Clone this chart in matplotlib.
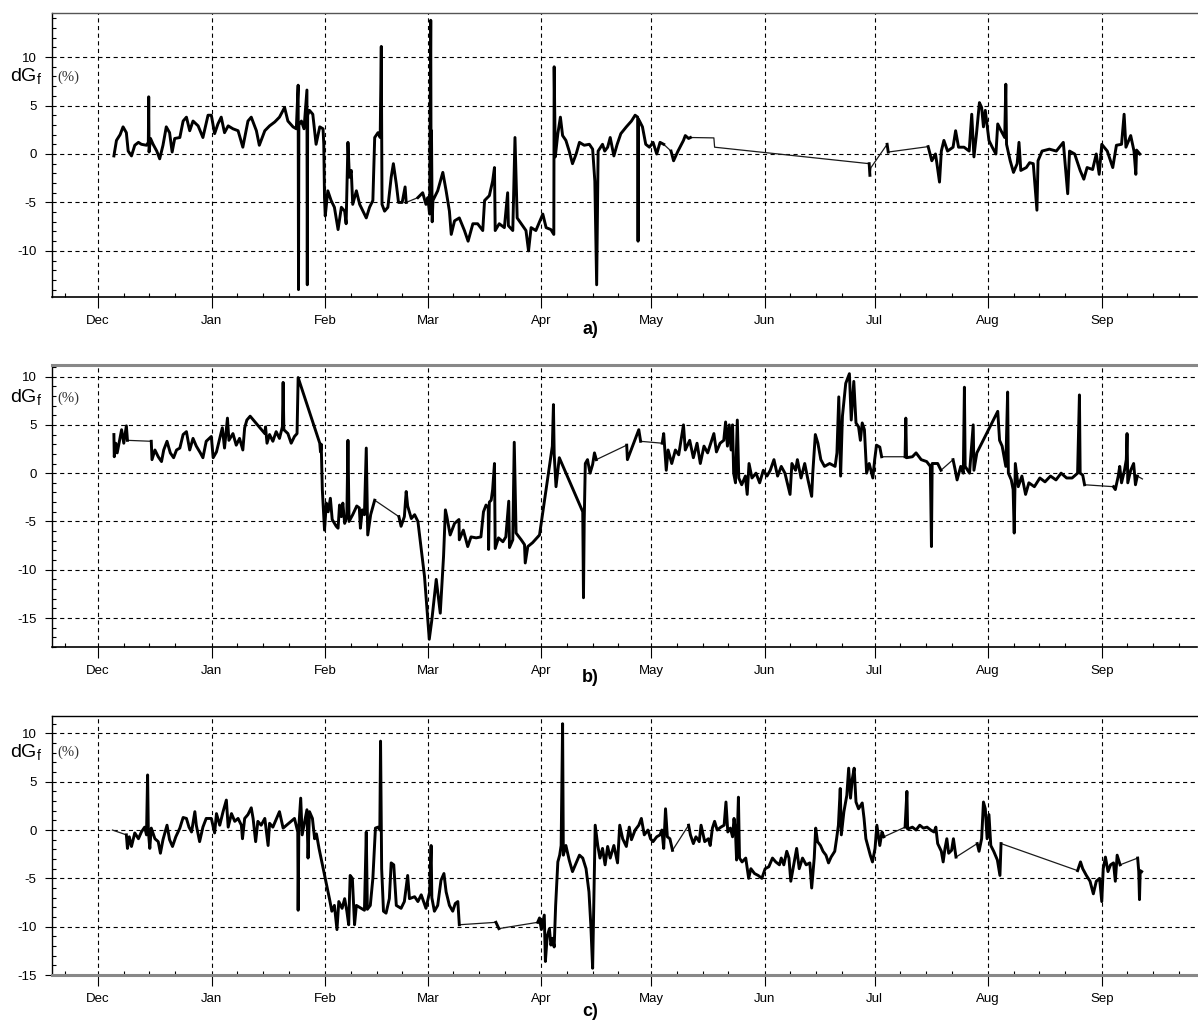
import matplotlib
matplotlib.use("Agg")
import matplotlib.pyplot as plt
import matplotlib.dates as mdates
from matplotlib.ticker import MultipleLocator
import numpy as np
import datetime as dt

plt.rcParams['font.family'] = ['Liberation Sans', 'DejaVu Sans']
plt.rcParams['lines.scale_dashes'] = False
plt.rcParams['axes.unicode_minus'] = False

# day 0 = 1 Dec
start = dt.datetime(2010, 12, 1)

# ---- panel a ----
a_days = [4.3, 5.0, 6.0, 6.8, 7.7, 8.2, 9.1, 10.0, 11.0, 11.8,
          13.2, 13.7, 13.8, 13.9, 14.3, 15.0, 16.0, 16.8, 17.7, 18.6,
          19.5, 20.2, 20.9, 22.3, 23.2, 24.1, 25.0, 25.9, 27.3, 28.6,
          30.0, 30.9, 31.8, 32.7, 33.6, 34.5, 35.5, 36.8, 38.2, 39.5,
          40.9, 41.8, 43.2, 44.0, 45.5, 46.8, 48.2, 49.5, 50.9, 51.8,
          53.2, 54.1, 54.6, 54.7, 54.8, 55.5, 56.2, 57.0, 57.1, 57.2,
          57.7, 58.6, 59.5, 60.5, 61.4, 61.6, 61.8, 62.0, 62.7, 63.6,
          64.5, 65.5, 66.4, 67.3, 67.7, 68.2, 68.6, 69.1, 69.5, 70.5,
          71.4, 72.3, 73.2, 74.1, 75.0, 75.5, 76.4, 77.0, 77.3, 77.5,
          78.2, 79.1, 80.0, 80.6, 81.4, 82.0, 83.0, 83.8, 84.1, 87.3,
          88.6, 89.5, 90.0, 90.5, 90.8, 90.9, 91.0, 91.2, 91.4, 92.7,
          94.1, 95.0, 95.9, 96.4, 97.3, 98.6, 100.0, 101.0, 102.3, 103.6,
          105.0, 105.5, 106.8, 107.7, 108.2, 108.4, 109.5, 110.9, 111.8, 112.0,
          113.2, 113.8, 114.4, 115.5, 116.8, 117.5, 118.2, 119.5, 121.4, 122.3,
          123.6, 124.4, 124.5, 124.8, 125.5, 126.2, 126.8, 127.7, 128.6, 129.5,
          130.5, 131.4, 132.7, 134.1, 135.0, 135.6, 136.1, 136.5, 137.7, 138.3,
          139.1, 139.8, 140.8, 141.7, 142.7, 144.2, 145.6, 146.6, 147.3, 147.4,
          147.5, 147.8, 148.6, 149.5, 150.5, 151.5, 152.5, 153.4, 154.4, 156.4,
          157.1, 158.3, 159.8, 160.3, 161.2, 161.7, 168.1, 168.3, 210.5, 210.7,
          211.0, 215.4, 215.7, 226.6, 227.6, 228.6, 229.0, 229.7, 230.2, 230.9,
          231.9, 233.4, 234.1, 234.9, 236.4, 237.8, 238.5, 239.1, 239.8, 240.6,
          241.2, 241.7, 242.2, 243.2, 244.1, 245.1, 245.6, 246.5, 247.5, 247.8,
          248.0, 249.0, 249.9, 250.9, 251.4, 251.9, 253.4, 254.3, 255.3, 256.3,
          256.6, 257.7, 259.7, 261.6, 263.5, 264.7, 265.2, 266.6, 268.1, 269.1,
          270.0, 271.5, 272.5, 273.3, 274.0, 275.5, 277.0, 278.0, 279.4, 280.1,
          280.6, 281.9, 282.8, 283.3, 283.5, 284.4]
a_vals = [-0.2, 1.4, 2.0, 2.8, 2.2, 0.3, -0.2, 0.9, 1.2, 1.0,
          0.9, 1.2, 5.9, 0.2, 1.6, 1.0, 0.3, -0.5, 0.9, 2.8,
          2.2, 0.2, 1.6, 1.7, 3.4, 3.8, 2.4, 3.4, 2.9, 1.7,
          4.0, 4.0, 2.1, 3.1, 3.8, 2.2, 2.9, 2.6, 2.4, 0.7,
          3.4, 3.8, 2.4, 0.9, 2.4, 2.9, 3.3, 3.8, 4.8, 3.4,
          2.8, 2.6, 7.1, -14.0, 3.0, 3.4, 2.6, 6.6, -13.5, 4.0,
          4.5, 4.1, 1.0, 2.8, 2.6, 1.0, -4.5, -6.4, -3.8, -4.8,
          -5.5, -7.8, -5.5, -5.9, -7.2, 1.2, -2.4, -1.7, -5.2, -3.8,
          -5.2, -5.9, -6.6, -5.5, -4.8, 1.7, 2.2, 1.7, 11.1, -5.2,
          -5.9, -5.5, -2.4, -1.0, -3.1, -5.0, -5.0, -3.4, -5.0, -4.5,
          -4.0, -5.2, -4.5, -6.2, 13.8, -4.0, 2.4, -7.0, -4.8, -3.8,
          -1.9, -3.8, -5.9, -8.3, -6.9, -6.6, -7.9, -9.0, -7.2, -7.2,
          -7.9, -4.8, -4.3, -2.8, -1.4, -7.9, -7.2, -7.6, -4.0, -7.4,
          -7.9, 1.7, -6.6, -7.2, -7.9, -10.0, -7.6, -7.9, -6.2, -7.6,
          -7.8, -8.3, 9.0, -0.3, 2.1, 3.8, 1.9, 1.4, 0.3, -1.0,
          0.0, 1.2, 0.9, 1.0, 0.5, -2.8, -13.5, 0.3, 1.0, 0.3,
          0.7, 1.7, -0.2, 1.0, 2.1, 2.8, 3.4, 4.0, 3.8, -9.0,
          3.6, 3.4, 2.8, 1.0, 0.7, 1.2, 0.0, 1.2, 1.0, 0.3,
          -0.7, 0.3, 1.4, 1.9, 1.6, 1.7, 1.66, 0.7, -1.0, -2.2,
          -1.4, 1.0, 0.2, 0.76, -0.7, 0.0, -1.0, -2.9, 0.3, 1.4,
          0.3, 0.7, 2.4, 0.7, 0.7, 0.3, 4.1, -0.3, 2.1, 5.3,
          4.8, 2.8, 4.5, 1.4, 0.7, 0.0, 3.1, 2.4, 1.7, 7.2,
          1.0, -0.7, -1.9, -1.0, 1.2, -1.7, -1.4, -0.9, -1.0, -5.8,
          -0.7, 0.3, 0.5, 0.3, 1.2, -4.1, 0.3, 0.0, -1.7, -2.6,
          -1.4, -1.6, 0.0, -2.1, 1.0, 0.3, -1.4, 0.9, 1.0, 4.1,
          0.7, 1.9, 0.3, -2.1, 0.4, 0.0]
a_gaps = [(84.1, 87.3), (154.4, 156.4), (161.7, 210.5), (210.7, 215.4), (215.7, 226.6)]

# ---- panel b ----
b_days = [4.3, 4.4, 4.8, 5.2, 5.7, 6.4, 7.0, 7.7, 8.0, 14.5,
          14.7, 15.5, 16.4, 17.3, 17.9, 18.8, 19.7, 20.6, 21.4, 22.3,
          23.2, 24.1, 25.0, 25.9, 26.8, 27.9, 28.6, 29.5, 30.9, 31.4,
          32.3, 33.2, 33.9, 34.5, 35.3, 35.7, 36.8, 37.7, 38.6, 39.5,
          40.0, 40.6, 41.5, 45.5, 45.7, 46.1, 46.8, 47.7, 48.6, 49.5,
          50.3, 50.5, 50.7, 51.8, 52.7, 53.6, 54.3, 54.6, 60.5, 60.7,
          60.9, 61.2, 61.8, 62.3, 62.8, 63.4, 63.9, 65.0, 65.5, 65.9,
          66.4, 66.8, 67.3, 67.9, 68.2, 68.5, 69.5, 70.6, 71.3, 71.6,
          72.1, 72.7, 73.2, 73.6, 74.4, 75.5, 82.1, 82.7, 83.6, 84.1,
          84.5, 85.5, 86.4, 87.3, 89.1, 90.4, 91.1, 92.3, 93.4, 94.3,
          94.8, 95.2, 96.1, 97.3, 98.5, 98.6, 99.7, 100.9, 101.8, 103.2,
          104.5, 105.2, 105.9, 106.5, 106.6, 106.8, 107.3, 107.7, 108.2, 108.4,
          109.3, 110.5, 111.3, 112.1, 112.3, 113.2, 113.6, 114.1, 115.5, 116.4,
          116.6, 117.3, 118.6, 120.0, 120.5, 124.0, 124.3, 124.5, 125.0, 125.9,
          132.3, 132.5, 132.7, 133.0, 133.6, 134.3, 135.0, 135.5, 136.0, 144.3,
          144.5, 147.6, 148.1, 154.0, 154.4, 155.1, 155.6, 156.6, 157.6, 158.5,
          159.8, 160.3, 161.5, 162.5, 163.5, 164.4, 165.4, 166.4, 168.1, 168.8,
          169.8, 170.8, 171.3, 171.8, 172.3, 172.8, 173.2, 173.5, 174.0, 174.5,
          174.9, 175.7, 176.7, 177.2, 177.7, 178.5, 179.6, 180.6, 181.6, 182.6,
          183.5, 184.5, 185.5, 186.5, 187.5, 188.9, 189.4, 190.4, 190.9, 191.9,
          192.9, 193.8, 194.8, 195.1, 195.8, 196.5, 197.3, 198.3, 199.7, 201.2,
          201.7, 202.2, 202.7, 203.2, 204.1, 205.1, 205.6, 206.3, 206.9, 207.6,
          208.1, 208.6, 209.2, 209.8, 210.5, 211.5, 212.0, 212.5, 213.4, 213.9,
          220.3, 220.5, 220.7, 222.3, 223.3, 224.7, 226.2, 227.2, 227.5, 227.7,
          229.2, 230.1, 233.4, 234.0, 234.5, 235.5, 236.2, 236.5, 236.7, 237.9,
          238.9, 239.1, 239.9, 245.6, 246.1, 246.8, 247.8, 248.3, 248.5, 249.3,
          249.8, 250.1, 250.4, 251.2, 252.2, 253.2, 254.1, 255.6, 257.1, 258.5,
          260.0, 261.5, 262.9, 264.4, 265.9, 267.4, 267.9, 268.1, 268.8, 269.3,
          277.2, 277.7, 278.5, 278.9, 279.4, 280.2, 280.7, 280.9, 281.1, 281.9,
          282.7, 283.2, 283.7, 285.1]
b_vals = [4.0, 1.7, 3.1, 2.1, 3.1, 4.5, 3.1, 4.9, 3.4, 3.3,
          1.4, 2.4, 1.7, 1.2, 2.4, 3.3, 2.1, 1.6, 2.4, 2.6,
          4.0, 4.3, 2.4, 3.6, 2.8, 2.1, 1.6, 3.3, 3.8, 1.6,
          2.2, 3.6, 4.7, 2.6, 5.7, 3.4, 4.1, 2.9, 3.6, 2.4,
          4.7, 5.5, 5.9, 4.1, 4.8, 3.1, 4.0, 3.3, 4.3, 3.6,
          4.8, 9.4, 4.5, 4.1, 3.1, 3.8, 4.1, 9.9, 3.1, 2.2,
          3.0, -1.7, -5.9, -3.1, -4.0, -2.6, -4.8, -5.5, -5.7, -3.3,
          -4.5, -3.1, -5.2, -4.5, 3.4, -5.0, -4.3, -3.4, -3.6, -5.7,
          -3.8, -4.3, 2.6, -6.4, -4.3, -2.8, -4.5, -5.5, -4.5, -1.9,
          -3.4, -4.7, -4.3, -5.0, -10.7, -17.2, -15.2, -11.0, -14.5, -8.6,
          -3.8, -4.5, -6.4, -5.2, -4.8, -6.9, -5.9, -7.6, -6.6, -6.7,
          -6.6, -4.0, -3.3, -3.6, -7.9, -3.0, -2.8, -1.7, 1.0, -7.8,
          -6.7, -7.1, -6.6, -2.9, -7.7, -6.9, 3.2, -6.2, -6.9, -7.4,
          -9.3, -7.6, -7.2, -6.6, -6.4, 2.8, 7.1, 2.0, -1.4, 1.6,
          -4.0, -12.9, -5.0, 1.0, 1.4, 0.0, 0.9, 2.1, 1.4, 2.9,
          1.4, 4.5, 3.3, 3.1, 4.1, 0.3, 2.4, 1.0, 2.4, 1.9,
          5.0, 2.4, 3.4, 1.6, 3.1, 1.0, 2.8, 2.1, 4.1, 2.2,
          3.1, 3.4, 5.3, 2.8, 5.0, 2.4, 5.0, 0.0, -1.0, 5.5,
          -0.5, -1.2, -0.3, -2.2, 1.0, -0.5, 0.0, -1.0, 0.3, -0.3,
          0.3, 1.4, -0.3, 0.7, 0.0, -2.2, 1.0, 0.3, 1.4, -0.5,
          1.0, -0.7, -2.4, 0.0, 4.0, 3.1, 1.4, 0.7, 1.0, 0.7,
          2.1, 7.9, -0.3, 5.9, 9.3, 10.3, 5.5, 9.5, 5.2, 4.8,
          3.4, 5.2, 4.5, 0.0, 1.0, -0.5, 1.4, 2.9, 2.7, 1.7,
          1.7, 5.7, 1.6, 1.7, 2.1, 1.4, 1.2, 0.7, -7.6, 1.0,
          1.0, 0.3, 1.4, 0.3, -0.7, 0.7, 0.0, 8.9, 0.7, 0.0,
          5.0, 0.3, 2.1, 6.4, 3.4, 2.8, 0.7, 8.4, 0.0, -0.7,
          -1.7, -6.2, 1.0, -1.4, -0.3, -2.2, -1.0, -1.4, -0.5, -0.9,
          -0.3, -0.7, 0.0, -0.5, -0.5, 0.0, 8.1, 0.0, -0.2, -1.2,
          -1.4, -1.7, -0.3, 0.7, -1.0, 0.3, 1.4, 4.1, -1.0, 0.3,
          1.0, -1.2, -0.3, -0.6]
b_gaps = [(8.0, 14.5), (75.5, 82.1), (136.0, 144.3), (148.1, 154.0),
          (213.9, 220.3), (230.1, 233.4), (269.3, 277.2), (283.7, 285.1)]

# ---- panel c ----
c_days = [3.9, 7.7, 8.0, 8.5, 9.1, 10.0, 11.0, 11.8, 12.7, 13.2,
          13.5, 13.7, 14.1, 14.5, 15.5, 16.4, 17.0, 17.7, 18.8, 19.5,
          20.3, 21.2, 22.3, 23.2, 24.1, 24.8, 25.5, 26.4, 26.8, 27.7,
          28.6, 29.5, 30.9, 31.8, 32.3, 33.2, 34.1, 35.0, 35.5, 36.4,
          37.3, 38.2, 39.1, 39.4, 40.0, 40.9, 41.8, 42.3, 43.0, 43.6,
          44.5, 45.5, 46.4, 46.8, 47.7, 49.5, 50.5, 53.6, 54.5, 54.6,
          54.8, 55.3, 55.7, 56.4, 57.0, 57.3, 57.7, 58.5, 59.1, 59.6,
          60.3, 63.2, 63.8, 64.5, 65.2, 65.7, 66.6, 67.3, 67.9, 68.4,
          68.8, 69.4, 70.0, 70.5, 72.7, 73.2, 73.5, 74.3, 75.0, 75.7,
          76.4, 76.9, 77.1, 77.4, 77.9, 78.6, 79.5, 80.0, 80.7, 81.4,
          82.7, 83.6, 84.5, 85.0, 86.4, 87.3, 88.2, 89.5, 90.5, 90.9,
          91.1, 91.8, 92.7, 93.6, 94.4, 95.0, 95.9, 96.8, 97.5, 98.2,
          98.6, 108.6, 109.4, 120.0, 120.5, 121.0, 121.8, 122.1, 122.6, 123.2,
          123.6, 124.1, 124.5, 124.9, 125.5, 126.0, 126.4, 126.8, 127.0, 127.7,
          128.6, 129.5, 130.5, 131.4, 132.3, 133.2, 134.0, 134.5, 135.0, 135.5,
          135.7, 136.4, 137.0, 137.7, 138.4, 139.1, 139.8, 140.8, 141.8, 142.4,
          143.2, 144.2, 145.0, 145.6, 146.6, 147.6, 148.3, 149.1, 150.1, 150.8,
          151.5, 152.5, 153.4, 153.9, 154.4, 154.9, 155.4, 156.1, 156.8, 161.2,
          161.7, 162.5, 163.2, 164.1, 164.6, 165.6, 166.6, 167.1, 167.7, 168.3,
          169.0, 170.0, 170.9, 171.4, 171.9, 172.6, 173.2, 173.6, 174.0, 174.3,
          174.8, 175.1, 175.8, 176.8, 177.6, 178.2, 179.2, 180.2, 181.2, 182.1,
          183.1, 184.1, 185.0, 186.0, 186.5, 187.2, 188.0, 188.6, 189.1, 189.9,
          190.7, 191.4, 192.3, 193.3, 194.3, 194.8, 195.5, 195.9, 196.4, 197.2,
          197.9, 198.7, 199.4, 200.1, 201.1, 201.6, 202.1, 202.6, 202.9, 203.6,
          204.4, 204.9, 205.4, 205.9, 206.4, 206.9, 207.6, 208.6, 209.1, 209.6,
          210.1, 210.8, 211.4, 212.1, 212.6, 213.4, 214.0, 214.5, 220.3, 220.8,
          221.0, 222.3, 223.3, 224.3, 225.3, 226.3, 227.3, 228.2, 228.7, 229.2,
          230.2, 230.7, 231.2, 231.7, 232.2, 233.0, 233.5, 234.2, 240.0, 240.5,
          241.2, 241.7, 242.2, 242.7, 243.2, 243.7, 244.5, 245.5, 246.2, 246.5,
          267.4, 268.2, 268.8, 269.8, 270.8, 271.7, 272.5, 273.4, 274.0, 274.4,
          275.0, 275.7, 276.4, 277.2, 277.7, 278.2, 279.0, 283.8, 284.1, 284.3,
          284.5, 284.9]
c_vals = [0.0, -0.5, -1.9, -0.7, -1.7, -0.3, -0.9, -0.2, 0.3, -0.5,
          5.7, -0.1, -1.9, 0.2, -0.9, -1.2, -2.4, -1.0, 0.5, -1.0,
          -1.7, -0.7, 0.2, 1.3, 1.2, 0.3, -0.2, 1.9, 0.5, -1.2,
          0.3, 1.2, 1.2, -0.3, 1.7, 0.5, 1.9, 3.1, 0.3, 1.7,
          0.9, 1.2, 0.5, -0.9, 1.2, 1.6, 2.3, 1.2, -1.2, 0.9,
          0.5, 1.2, -1.6, 0.7, 0.3, 1.9, 0.2, 1.2, -0.2, -8.3,
          0.4, 3.3, -0.5, 0.9, 2.1, -2.9, 1.9, 1.2, -0.9, -0.4,
          -1.9, -7.2, -8.4, -7.8, -10.3, -7.4, -8.1, -7.1, -8.4, -9.8,
          -4.7, -5.0, -9.8, -7.8, -8.3, -0.2, -8.2, -7.8, -5.0, 0.2,
          0.3, 0.0, 9.2, -4.0, -8.4, -8.6, -7.1, -3.4, -3.6, -7.8,
          -8.1, -7.4, -4.7, -7.1, -6.9, -7.4, -6.7, -8.1, -6.4, -1.6,
          -7.0, -8.4, -7.8, -5.2, -4.5, -6.4, -7.8, -8.4, -7.6, -7.4,
          -9.8, -9.55, -10.2, -9.55, -9.1, -10.3, -8.8, -13.6, -11.0, -10.2,
          -11.9, -11.2, -12.1, -7.8, -3.3, -2.6, -1.6, 11.0, -2.6, -1.6,
          -3.1, -4.3, -3.4, -2.6, -2.9, -4.0, -6.4, -9.8, -14.3, -3.6,
          0.5, -1.6, -2.9, -1.9, -3.6, -1.7, -2.9, -1.6, -3.4, 0.5,
          -0.9, -1.7, 0.3, -1.0, 0.0, 0.5, 1.2, -0.5, 0.0, -0.9,
          -1.2, -0.7, -0.5, 0.0, -1.9, 2.2, -0.7, -0.9, -2.1, 0.5,
          -0.5, -1.4, -0.7, -1.2, 0.5, -1.2, -0.9, -1.6, 0.2, 0.9,
          0.0, 0.3, 0.5, 2.9, -0.2, 0.2, -0.7, 1.2, -0.2, -3.1,
          3.4, -2.9, -3.3, -2.9, -5.0, -4.0, -4.5, -4.7, -5.0, -4.0,
          -3.8, -2.9, -3.3, -3.6, -2.9, -3.6, -2.2, -2.9, -5.3, -3.6,
          -1.9, -4.0, -2.9, -3.6, -3.4, -6.0, -2.9, 0.2, -1.2, -1.6,
          -2.2, -2.6, -3.4, -2.8, -2.2, -0.9, 0.5, 4.3, -0.5, 1.9,
          3.6, 6.4, 3.3, 5.3, 6.4, 2.9, 2.2, 2.8, 1.2, -0.9,
          -1.6, -2.6, -3.3, -1.9, 0.5, -1.6, -0.2, -0.7, 0.3, 4.0,
          0.1, 0.3, 0.0, 0.5, 0.2, 0.3, 0.0, -0.2, 0.3, -1.4,
          -2.2, -3.3, -1.9, -0.9, -2.4, -2.1, -0.9, -2.8, -1.4, -2.2,
          -0.9, 2.9, 2.2, -0.9, 1.6, -1.6, -2.2, -3.1, -4.7, -1.4,
          -4.2, -3.3, -4.0, -4.7, -5.3, -6.6, -5.3, -5.0, -7.4, -4.0,
          -2.8, -4.3, -3.6, -3.4, -5.3, -2.6, -3.6, -2.9, -4.3, -7.2,
          -4.2, -4.3]
c_gaps = [(3.9, 7.7), (98.6, 108.6), (109.4, 120.0), (156.8, 161.2),
          (214.5, 220.3), (234.2, 240.0), (246.5, 267.4), (279.0, 283.8)]

base = mdates.date2num(start)


def draw(ax, days, vals, gaps):
    days = np.asarray(days, float)
    x = base + days
    y = np.asarray(vals, float)
    # thin line everywhere (data gaps are only bridged by this one)
    ax.plot(x, y, color='#1a1a1a', lw=0.9, zorder=3)
    xs, ys = [x[0]], [y[0]]
    for i in range(1, len(x)):
        if any(s <= days[i - 1] and days[i] <= e for s, e in gaps):
            xs.append(np.nan)
            ys.append(np.nan)
        xs.append(x[i])
        ys.append(y[i])
    ax.plot(xs, ys, color='black', lw=2.1, zorder=4)


fig = plt.figure(figsize=(11.98, 10.22), dpi=100)

W, H = 1198, 1022
panels = [
    (a_days, a_vals, a_gaps, 13, 297, (-14.76, 14.55), 'a)', 329, 77, 77),
    (b_days, b_vals, b_gaps, 365, 647, (-18.0, 11.2), 'b)', 677, 398, 398),
    (c_days, c_vals, c_gaps, 716, 975, (-15.0, 11.8), 'c)', 1012, 753, 752),
]

for k, (d, v, g, top, bot, ylim, tag, tag_y, lab_y, pct_y) in enumerate(panels):
    ax = fig.add_axes([52 / W, 1 - bot / H, (1197 - 52) / W, (bot - top) / H])
    draw(ax, d, v, g)
    ax.set_xlim(base - 12.6, base + 300)
    ax.set_ylim(*ylim)

    ax.xaxis.set_major_locator(mdates.MonthLocator())
    ax.xaxis.set_major_formatter(mdates.DateFormatter('%b'))
    ax.xaxis.set_minor_locator(mdates.DayLocator(bymonthday=[8, 15, 22]))
    ax.yaxis.set_major_locator(MultipleLocator(5))
    ax.yaxis.set_minor_locator(MultipleLocator(1))

    ax.grid(True, which='major', color='black', linestyle=(0, (3, 2.5)), linewidth=0.8)
    ax.tick_params(axis='x', which='major', direction='out', length=8, width=0.8,
                   pad=5, labelsize=9.5)
    ax.tick_params(axis='x', which='minor', direction='in', length=3, width=0.8)
    ax.tick_params(axis='y', which='major', direction='out', length=5, width=0.8,
                   pad=6, labelsize=9.5)
    ax.tick_params(axis='y', which='minor', direction='in', length=3, width=0.8)

    ax.spines['right'].set_visible(False)
    ax.spines['left'].set_linewidth(1.0)
    ax.spines['bottom'].set_linewidth(1.2)
    ax.spines['top'].set_linewidth(1.0)
    if k == 0:
        ax.spines['top'].set_color('#555555')
    if k == 1:
        ax.spines['top'].set_color('#888888')
        ax.spines['top'].set_linewidth(2.2)
    if k == 2:
        ax.spines['bottom'].set_color('#888888')
        ax.spines['bottom'].set_linewidth(2.2)

    fig.text(590 / W, 1 - tag_y / H, tag, ha='center', va='center',
             fontsize=13, fontweight='bold')
    fig.text(10 / W, 1 - lab_y / H, r'dG$_\mathregular{f}$', ha='left', va='center',
             fontsize=14)
    fig.text(57 / W, 1 - pct_y / H, '(%)', ha='left', va='center',
             fontsize=10.5, color='#333333', family='Liberation Serif')

fig.savefig('out.png', dpi=100)
